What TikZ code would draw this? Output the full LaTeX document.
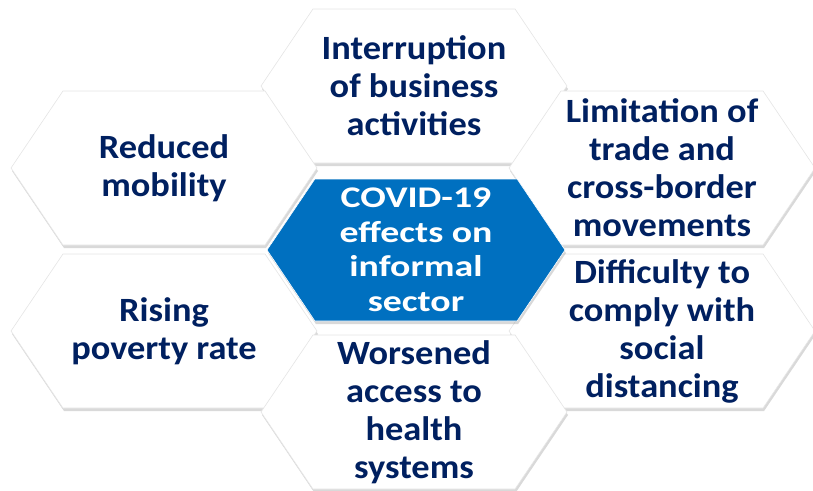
\documentclass[tikz,border=0pt]{standalone}
\usepackage{fontspec}
\setmainfont{Carlito}[FakeStretch=1.07]
\newfontfamily\corefont{Carlito}[FakeStretch=1.26]
\usetikzlibrary{shapes.symbols,shadows}
\definecolor{navy}{HTML}{002060}
\definecolor{covidblue}{HTML}{0070C0}
\tikzset{
 cell/.style={shape=signal, signal to=east and west, signal pointer angle=112,
   minimum width=306pt, minimum height=154pt, inner sep=0pt, align=center,
   fill=white, draw=black!10, line width=0.6pt,
   drop shadow={shadow xshift=1pt, shadow yshift=-3pt, opacity=0.3},
   text=navy, font=\fontsize{34}{38}\selectfont\bfseries},
 core/.style={cell, fill=covidblue, draw=white, minimum width=298pt,
   minimum height=142pt, text=white,
   font=\corefont\fontsize{30}{34.5}\selectfont\bfseries}
}

\begin{document}
\begin{tikzpicture}[x=1pt,y=-1pt]
\useasboundingbox (0,0) rectangle (813,490);
\path (414,86) node[cell,name=interrupt] {Interruption\\of business\\activities};
\path (164,168) node[cell,name=mobility] {Reduced\\mobility};
\path (662,168) node[cell,name=trade] {Limitation of\\trade and\\cross-border\\movements};
\path (164,331) node[cell,name=poverty] {Rising\\poverty rate};
\path (662,331) node[cell,name=distancing] {Difficulty to\\comply with\\social\\distancing};
\path (414,412) node[cell,name=health] {Worsened\\access to\\health\\systems};

% the core cell
\path (416,250) node[core,name=covid] {COVID-19\\effects on\\informal\\sector};
\end{tikzpicture}
\end{document}
